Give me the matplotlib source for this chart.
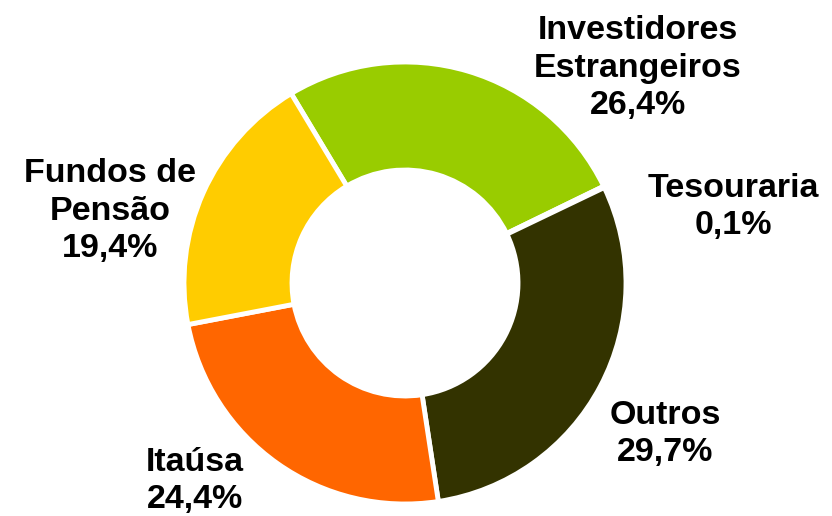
import matplotlib
matplotlib.use("Agg")
import matplotlib.pyplot as plt

labels = ["Investidores\nEstrangeiros", "Tesouraria", "Outros", "Itaúsa", "Fundos de\nPensão"]
shares = [26.4, 0.1, 29.7, 24.4, 19.4]
colors = ["#99CC00", "#333300", "#333300", "#FF6600", "#FFCC00"]

# label anchor points in pixel coords (x, y from top)
label_pos = [(638, 68), (733, 207), (665, 434), (195, 481), (110, 211)]

W, H = 832, 516
fig = plt.figure(figsize=(W / 100, H / 100), dpi=100)
ax = fig.add_axes([0, 0, 1, 1])
ax.axis("off")

ax.pie(shares, colors=colors, startangle=121, counterclock=False,
       center=(405, H - 283), radius=221,
       wedgeprops=dict(width=108, edgecolor="white", linewidth=3.5))
ax.set_xlim(0, W)
ax.set_ylim(0, H)
ax.set_aspect("equal")

for lab, val, (x, y) in zip(labels, shares, label_pos):
    txt = f"{lab}\n{val:.1f}%".replace(".", ",")
    ax.text(x, H - y, txt, ha="center", va="center", fontsize=24.5,
            fontweight="bold", family="Liberation Sans", linespacing=1.28,
            color="black")

fig.savefig("out.png", dpi=100)
